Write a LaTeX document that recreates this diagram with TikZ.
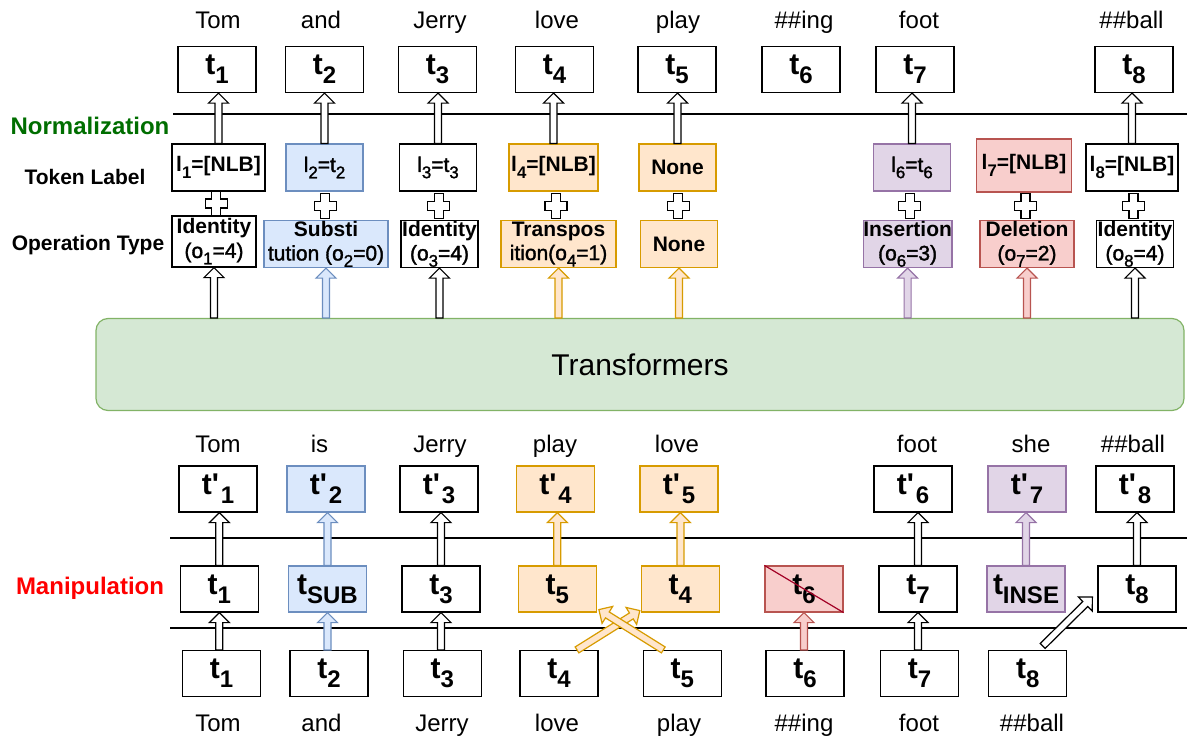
\documentclass[tikz,border=0pt]{standalone}
\usepackage{fontspec}
\setmainfont{Liberation Sans}
\newfontface\medfont{Liberation Sans}[FakeBold=1.6]
\usetikzlibrary{calc}
\definecolor{blueF}{RGB}{218,232,252}
\definecolor{blueD}{RGB}{108,142,191}
\definecolor{orangeF}{RGB}{255,230,204}
\definecolor{orangeD}{RGB}{215,155,0}
\definecolor{purpleF}{RGB}{225,213,231}
\definecolor{purpleD}{RGB}{150,115,166}
\definecolor{redF}{RGB}{248,206,204}
\definecolor{redD}{RGB}{184,84,80}
\definecolor{greenF}{RGB}{213,232,212}
\definecolor{greenD}{RGB}{130,179,102}
\definecolor{normgreen}{RGB}{0,110,0}
\definecolor{strikeRed}{RGB}{162,0,37}
\newcommand\fsz[1]{\fontsize{#1}{#1}\selectfont}
\newcommand\mysub[1]{\raisebox{-0.3em}{\scalebox{0.8}{#1}}}
% hollow block arrow from #2 (tail) to #3 (tip)
\newcommand\farrow[3][]{%
 \coordinate (faA) at #2; \coordinate (faB) at #3;
 \coordinate (faC) at ($(faB)!10pt!(faA)$);
 \draw[farrowsty,#1] ($(faA)!3.5pt!90:(faB)$) -- ($(faC)!3.5pt!90:(faB)$) -- ($(faC)!10pt!90:(faB)$) -- (faB) -- ($(faC)!10pt!-90:(faB)$) -- ($(faC)!3.5pt!-90:(faB)$) -- ($(faA)!3.5pt!-90:(faB)$) -- cycle;}
\newcommand\plusat[1]{\draw[plussty] #1 ++(-4.5,-12.5) -- ++(9,0) -- ++(0,8) -- ++(6.5,0) -- ++(0,9) -- ++(-6.5,0) -- ++(0,8) -- ++(-9,0) -- ++(0,-8) -- ++(-6.5,0) -- ++(0,-9) -- ++(6.5,0) -- cycle;}
\tikzset{
 bx/.style={draw, line width=1.2pt, inner sep=0pt, align=center, fill=white},
 tok/.style={bx, minimum width=78pt, minimum height=46pt, font=\fsz{30}\bfseries},
 wrd/.style={font=\fsz{24}, inner sep=0pt, anchor=base},
 lbl/.style={bx, minimum height=47pt, font=\fsz{21}},
 opb/.style={bx, minimum height=47pt, font=\fontsize{21}{24}\selectfont},
 side/.style={font=\fsz{21}\bfseries, inner sep=0pt},
 bluec/.style={fill=blueF, draw=blueD},
 orangec/.style={fill=orangeF, draw=orangeD},
 purplec/.style={fill=purpleF, draw=purpleD},
 redc/.style={fill=redF, draw=redD},
 farrowsty/.style={draw=black, fill=white, line width=1.2pt, line join=miter},
 plussty/.style={draw=black, fill=white, line width=1.1pt},
 sepline/.style={line width=2.5pt},
}
\begin{document}
\begin{tikzpicture}[x=1pt,y=-1pt]
\useasboundingbox (0,0) rectangle (1187,739);
% separator lines
\coordinate (NL1) at (173,114); \coordinate (NL2) at (1187,114);
\coordinate (ML1) at (170,538); \coordinate (ML2) at (1187,538);
\coordinate (ML3) at (170,628); \coordinate (ML4) at (1187,628);
\draw[sepline] (NL1) -- (NL2);
\draw[sepline] (ML1) -- (ML2);
\draw[sepline] (ML3) -- (ML4);
% side labels
\node[font=\fsz{24}\bfseries, text=normgreen, inner sep=0pt] (NORM) at (90,126) {Normalization};
\node[side] (TL) at (85,177) {Token Label};
\node[side] (OT) at (88,245) {Operation Type};
\node[font=\fsz{24}\bfseries, text=red, inner sep=0pt] (MANI) at (90,588) {Manipulation};
% top words
\node[wrd] (WT1) at (218,28) {Tom};
\node[wrd] (WT2) at (321,28) {and};
\node[wrd] (WT3) at (440,28) {Jerry};
\node[wrd] (WT4) at (557,28) {love};
\node[wrd] (WT5) at (678,28) {play};
\node[wrd] (WT6) at (804,28) {\#\#ing};
\node[wrd] (WT7) at (919,28) {foot};
\node[wrd] (WT8) at (1131.5,28) {\#\#ball};
% top tokens
\node[tok] (T1) at (217,69.5) {t\mysub{1}};
\node[tok] (T2) at (324.5,69.5) {t\mysub{2}};
\node[tok] (T3) at (437.5,69.5) {t\mysub{3}};
\node[tok] (T4) at (554.5,69.5) {t\mysub{4}};
\node[tok] (T5) at (677,69.5) {t\mysub{5}};
\node[tok] (T6) at (801,69.5) {t\mysub{6}};
\node[tok] (T7) at (915,69.5) {t\mysub{7}};
\node[tok] (T8) at (1134,69.5) {t\mysub{8}};
% label row
\node[lbl, minimum width=93pt] (L1) at (218.5,167.5) {\textbf{l\mysub{1}=[NLB]}};
\node[lbl, bluec, minimum width=77pt] (L2) at (324.5,167.5) {\medfont l\mysub{2}=t\mysub{2}};
\node[lbl, minimum width=77pt] (L3) at (438,167.5) {\medfont l\mysub{3}=t\mysub{3}};
\node[lbl, orangec, minimum width=89pt] (L4) at (553.5,167.5) {\textbf{l\mysub{4}=[NLB]}};
\node[lbl, orangec, minimum width=77pt] (L5) at (677.5,167.5) {\textbf{None}};
\node[lbl, purplec, minimum width=77pt] (L6) at (912,167.5) {\medfont l\mysub{6}=t\mysub{6}};
\node[lbl, redc, minimum width=95pt, minimum height=53pt] (L7) at (1024,165.5) {\textbf{l\mysub{7}=[NLB]}};
\node[lbl, minimum width=92pt] (L8) at (1132,167.5) {\textbf{l\mysub{8}=[NLB]}};
% operation row
\node[opb, minimum width=84pt, minimum height=51pt] (O1) at (214,241.5) {\textbf{Identity}\\{\medfont (o\mysub{1}=4)}};
\node[opb, bluec, minimum width=124pt] (O2) at (326,244) {\textbf{Substi}\\{\medfont tution (o\mysub{2}=0)}};
\node[opb, minimum width=77pt] (O3) at (439.5,244) {\textbf{Identity}\\{\medfont (o\mysub{3}=4)}};
\node[opb, orangec, minimum width=115pt] (O4) at (558.5,244) {\textbf{Transpos}\\{\medfont ition(o\mysub{4}=1)}};
\node[opb, orangec, minimum width=77pt, font=\fsz{21}\bfseries] (O5) at (679,244) {None};
\node[opb, purplec, minimum width=88pt] (O6) at (907.6,244) {\textbf{Insertion}\\{\medfont (o\mysub{6}=3)}};
\node[opb, redc, minimum width=94pt] (O7) at (1027,244) {\textbf{Deletion}\\{\medfont (o\mysub{7}=2)}};
\node[opb, minimum width=77pt] (O8) at (1135,244) {\textbf{Identity}\\{\medfont (o\mysub{8}=4)}};
% transformers
\node[draw=greenD, fill=greenF, line width=1.2pt, rounded corners=12pt, minimum width=1088pt, minimum height=92pt, inner sep=0pt, font=\fsz{30}] (TR) at (640,364.5) {Transformers};
% lower words
\node[wrd] (WM1) at (218,452) {Tom};
\node[wrd] (WM2) at (319.5,452) {is};
\node[wrd] (WM3) at (440,452) {Jerry};
\node[wrd] (WM4) at (555,452) {play};
\node[wrd] (WM5) at (677,452) {love};
\node[wrd] (WM6) at (917,452) {foot};
\node[wrd] (WM7) at (1031,452) {she};
\node[wrd] (WM8) at (1133,452) {\#\#ball};
% t' row
\node[tok] (TP1) at (218,489) {t\textquotesingle\hspace{2pt}\mysub{1}};
\node[tok, bluec] (TP2) at (326,489) {t\textquotesingle\hspace{2pt}\mysub{2}};
\node[tok] (TP3) at (439,489) {t\textquotesingle\hspace{2pt}\mysub{3}};
\node[tok, orangec] (TP4) at (555.5,489) {t\textquotesingle\hspace{2pt}\mysub{4}};
\node[tok, orangec] (TP5) at (679,489) {t\textquotesingle\hspace{2pt}\mysub{5}};
\node[tok] (TP6) at (913,489) {t\textquotesingle\hspace{2pt}\mysub{6}};
\node[tok, purplec] (TP7) at (1027,489) {t\textquotesingle\hspace{2pt}\mysub{7}};
\node[tok] (TP8) at (1135,489) {t\textquotesingle\hspace{2pt}\mysub{8}};
% manipulated row
\node[tok] (M1) at (219.3,589) {t\mysub{1}};
\node[tok, bluec] (Msub) at (327.5,589) {t\mysub{SUB}};
\node[tok] (M3) at (441,589) {t\mysub{3}};
\node[tok, orangec] (M5) at (557.3,589) {t\mysub{5}};
\node[tok, orangec] (M4) at (680.4,589) {t\mysub{4}};
\node[tok, redc] (M6) at (804,589) {t\mysub{6}};
\draw[strikeRed, line width=1.2pt] (M6.north west) -- (M6.south east);
\node[tok] (M7) at (918,589) {t\mysub{7}};
\node[tok, purplec] (Minse) at (1026,589) {t\mysub{INSE}};
\node[tok] (M8) at (1137,589) {t\mysub{8}};
% bottom row
\node[tok] (B1) at (221.5,673.5) {t\mysub{1}};
\node[tok] (B2) at (329,673.5) {t\mysub{2}};
\node[tok] (B3) at (442.4,673.5) {t\mysub{3}};
\node[tok] (B4) at (559,673.5) {t\mysub{4}};
\node[tok] (B5) at (682.3,673.5) {t\mysub{5}};
\node[tok] (B6) at (805,673.5) {t\mysub{6}};
\node[tok] (B7) at (919.5,673.5) {t\mysub{7}};
\node[tok] (B8) at (1027.7,673.5) {t\mysub{8}};
% bottom words
\node[wrd] (WB1) at (218,731) {Tom};
\node[wrd] (WB2) at (321.5,731) {and};
\node[wrd] (WB3) at (442,731) {Jerry};
\node[wrd] (WB4) at (557,731) {love};
\node[wrd] (WB5) at (679,731) {play};
\node[wrd] (WB6) at (804,731) {\#\#ing};
\node[wrd] (WB7) at (919,731) {foot};
\node[wrd] (WB8) at (1032,731) {\#\#ball};
% label -> token arrows
\farrow{(L1.north)}{(L1.north |- T1.south)}
\farrow{(L2.north)}{(L2.north |- T2.south)}
\farrow{(L3.north)}{(L3.north |- T3.south)}
\farrow{(L4.north)}{(L4.north |- T4.south)}
\farrow{(L5.north)}{(L5.north |- T5.south)}
\farrow{(L6.north)}{(L6.north |- T7.south)}
\farrow{(L8.north)}{(L8.north |- T8.south)}
% plus signs
\plusat{($(L1.south)!0.5!(O1.north)$)}
\plusat{($(L2.south)!0.5!(O2.north)$)}
\plusat{($(L3.south)!0.5!(O3.north)$)}
\plusat{($(L4.south)!0.5!(O4.north)$)}
\plusat{($(L5.south)!0.5!(O5.north)$)}
\plusat{($(L6.south)!0.5!(O6.north)$)}
\plusat{($(L7.south)!0.5!(O7.north)$)}
\plusat{($(L8.south)!0.5!(O8.north)$)}
% transformers -> operations
\farrow{(O1.south |- TR.north)}{(O1.south)}
\farrow[bluec]{(O2.south |- TR.north)}{(O2.south)}
\farrow{(O3.south |- TR.north)}{(O3.south)}
\farrow[orangec]{(O4.south |- TR.north)}{(O4.south)}
\farrow[orangec]{(O5.south |- TR.north)}{(O5.south)}
\farrow[purplec]{(O6.south |- TR.north)}{(O6.south)}
\farrow[redc]{(O7.south |- TR.north)}{(O7.south)}
\farrow{(O8.south |- TR.north)}{(O8.south)}
% manipulated -> t'
\farrow{(M1.north)}{(M1.north |- TP1.south)}
\farrow[bluec]{(Msub.north)}{(Msub.north |- TP2.south)}
\farrow{(M3.north)}{(M3.north |- TP3.south)}
\farrow[orangec]{(M5.north)}{(M5.north |- TP4.south)}
\farrow[orangec]{(M4.north)}{(M4.north |- TP5.south)}
\farrow{(M7.north)}{(M7.north |- TP6.south)}
\farrow[purplec]{(Minse.north)}{(Minse.north |- TP7.south)}
\farrow{(M8.north)}{(M8.north |- TP8.south)}
% bottom -> manipulated
\farrow{(M1.south |- B1.north)}{(M1.south)}
\farrow[bluec]{(Msub.south |- B2.north)}{(Msub.south)}
\farrow{(M3.south |- B3.north)}{(M3.south)}
\farrow[redc]{(M6.south |- B6.north)}{(M6.south)}
\farrow{(M7.south |- B7.north)}{(M7.south)}
\farrow[orangec]{($(B4.north)+(18,0)$)}{($(M4.south west)+(-1,-2)$)}
\farrow[orangec]{($(B5.north)+(-19,0)$)}{($(M5.south east)+(2,-3)$)}
\farrow{($(B8.north)+(15,-4)$)}{($(M8.west)+(-5,8)$)}
\end{tikzpicture}
\end{document}
